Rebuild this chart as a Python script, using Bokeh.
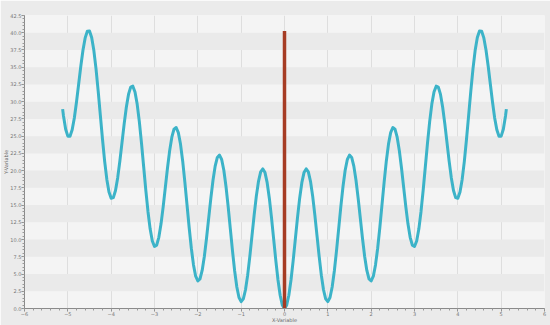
from bokeh.plotting import figure
from bokeh.embed import file_html
from bokeh.resources import INLINE
from bokeh.models import Range1d, FixedTicker, CustomJSTickFormatter

x_vals = [
    -5.12, -5.1, -5.05,
    -5.0, -4.95, -4.9, -4.85, -4.8, -4.75, -4.7, -4.65, -4.6, -4.55,
    -4.5, -4.45, -4.4, -4.35, -4.3, -4.25, -4.2, -4.15, -4.1, -4.05,
    -4.0, -3.95, -3.9, -3.85, -3.8, -3.75, -3.7, -3.65, -3.6, -3.55,
    -3.5, -3.45, -3.4, -3.35, -3.3, -3.25, -3.2, -3.15, -3.1, -3.05,
    -3.0, -2.95, -2.9, -2.85, -2.8, -2.75, -2.7, -2.65, -2.6, -2.55,
    -2.5, -2.45, -2.4, -2.35, -2.3, -2.25, -2.2, -2.15, -2.1, -2.05,
    -2.0, -1.95, -1.9, -1.85, -1.8, -1.75, -1.7, -1.65, -1.6, -1.55,
    -1.5, -1.45, -1.4, -1.35, -1.3, -1.25, -1.2, -1.15, -1.1, -1.05,
    -1.0, -0.95, -0.9, -0.85, -0.8, -0.75, -0.7, -0.65, -0.6, -0.55,
    -0.5, -0.45, -0.4, -0.35, -0.3, -0.25, -0.2, -0.15, -0.1, -0.05,
    0.0, 0.05, 0.1, 0.15, 0.2, 0.25, 0.3, 0.35, 0.4, 0.45,
    0.5, 0.55, 0.6, 0.65, 0.7, 0.75, 0.8, 0.85, 0.9, 0.95,
    1.0, 1.05, 1.1, 1.15, 1.2, 1.25, 1.3, 1.35, 1.4, 1.45,
    1.5, 1.55, 1.6, 1.65, 1.7, 1.75, 1.8, 1.85, 1.9, 1.95,
    2.0, 2.05, 2.1, 2.15, 2.2, 2.25, 2.3, 2.35, 2.4, 2.45,
    2.5, 2.55, 2.6, 2.65, 2.7, 2.75, 2.8, 2.85, 2.9, 2.95,
    3.0, 3.05, 3.1, 3.15, 3.2, 3.25, 3.3, 3.35, 3.4, 3.45,
    3.5, 3.55, 3.6, 3.65, 3.7, 3.75, 3.8, 3.85, 3.9, 3.95,
    4.0, 4.05, 4.1, 4.15, 4.2, 4.25, 4.3, 4.35, 4.4, 4.45,
    4.5, 4.55, 4.6, 4.65, 4.7, 4.75, 4.8, 4.85, 4.9, 4.95,
    5.0, 5.05, 5.1, 5.12,
]
y_vals = [
    28.92, 27.92, 25.99,
    25.0, 24.99, 25.92, 27.64, 29.95, 32.56, 35.18, 37.50, 39.25, 40.21,
    40.25, 39.31, 37.45, 34.80, 31.58, 28.06, 24.55, 21.34, 18.72, 16.89,
    16.0, 16.09, 17.12, 18.94, 21.35, 24.06, 26.78, 29.20, 31.05, 32.11,
    32.25, 31.41, 29.65, 27.10, 23.98, 20.56, 17.15, 14.04, 11.52, 9.79,
    9.0, 9.19, 10.32, 12.24, 14.75, 17.56, 20.38, 22.90, 24.85, 26.01,
    26.25, 25.51, 23.85, 21.40, 18.38, 15.06, 11.75, 8.74, 6.32, 4.69,
    4.0, 4.29, 5.52, 7.54, 10.15, 13.06, 15.98, 18.60, 20.65, 21.91,
    22.25, 21.61, 20.05, 17.70, 14.78, 11.56, 8.35, 5.44, 3.12, 1.59,
    1.0, 1.39, 2.72, 4.84, 7.55, 10.56, 13.58, 16.30, 18.45, 19.81,
    20.25, 19.71, 18.25, 16.00, 13.18, 10.06, 6.95, 4.14, 1.92, 0.49,
    0.0, 0.49, 1.92, 4.14, 6.95, 10.06, 13.18, 16.00, 18.25, 19.71,
    20.25, 19.81, 18.45, 16.30, 13.58, 10.56, 7.55, 4.84, 2.72, 1.39,
    1.0, 1.59, 3.12, 5.44, 8.35, 11.56, 14.78, 17.70, 20.05, 21.61,
    22.25, 21.91, 20.65, 18.60, 15.98, 13.06, 10.15, 7.54, 5.52, 4.29,
    4.0, 4.69, 6.32, 8.74, 11.75, 15.06, 18.38, 21.40, 23.85, 25.51,
    26.25, 26.01, 24.85, 22.90, 20.38, 17.56, 14.75, 12.24, 10.32, 9.19,
    9.0, 9.79, 11.52, 14.04, 17.15, 20.56, 23.98, 27.10, 29.65, 31.41,
    32.25, 32.11, 31.05, 29.20, 26.78, 24.06, 21.35, 18.94, 17.12, 16.09,
    16.0, 16.89, 18.72, 21.34, 24.55, 28.06, 31.58, 34.80, 37.45, 39.31,
    40.25, 40.21, 39.25, 37.50, 35.18, 32.56, 29.95, 27.64, 25.92, 24.99,
    25.0, 25.99, 27.92, 28.92,
]

marker_x = [0.0, 0.0]
marker_y = [0.0, 40.25]

x_ticks = [-6, -5, -4, -3, -2, -1, 0, 1, 2, 3, 4, 5, 6]
x_minor = [t / 5 for t in range(-30, 31)]
y_ticks = [0.0, 2.5, 5.0, 7.5, 10.0, 12.5, 15.0, 17.5, 20.0, 22.5, 25.0, 27.5,
           30.0, 32.5, 35.0, 37.5, 40.0, 42.5]
y_minor = [t * 0.5 for t in range(0, 86)]

p = figure(width=550, height=325, output_backend="svg", toolbar_location=None,
           x_range=Range1d(-6, 6), y_range=Range1d(0, 42.5),
           min_border_left=0, min_border_right=6, min_border_top=15, min_border_bottom=0,
           x_axis_label="X-Variable", y_axis_label="Y-Variable")

p.background_fill_color = "#f4f4f4"
p.border_fill_color = "#ebebeb"
p.outline_line_color = None

p.xaxis.ticker = FixedTicker(ticks=x_ticks, minor_ticks=x_minor)
p.yaxis.ticker = FixedTicker(ticks=y_ticks, minor_ticks=y_minor)
p.yaxis.formatter = CustomJSTickFormatter(code="return tick.toFixed(1);")

for ax in (p.xaxis[0], p.yaxis[0]):
    ax.axis_line_color = "#8a8a8a"
    ax.major_tick_line_color = "#8a8a8a"
    ax.minor_tick_line_color = "#9a9a9a"
    ax.major_tick_out = 3
    ax.major_tick_in = 0
    ax.minor_tick_out = 2
    ax.minor_tick_in = 0
    ax.major_label_text_font_size = "5px"
    ax.major_label_text_color = "#777777"
    ax.major_label_text_font = "DejaVu Sans"
    ax.axis_label_text_font_size = "5px"
    ax.axis_label_text_color = "#666666"
    ax.axis_label_text_font = "DejaVu Sans"
    ax.axis_label_text_font_style = "normal"
    ax.axis_label_standoff = -2
    ax.major_label_standoff = 0

p.xgrid.grid_line_color = "#dedede"
p.xgrid.grid_line_width = 1
p.ygrid.grid_line_color = None
p.ygrid.band_fill_color = "#eaeaea"
p.ygrid.band_fill_alpha = 1.0

p.line(x_vals, y_vals, line_color="#3cb3c8", line_width=3, line_join="round")
p.line(marker_x, marker_y, line_color="#a63c24", line_width=3.5)

open("out.html", "w").write(file_html(p, INLINE))
